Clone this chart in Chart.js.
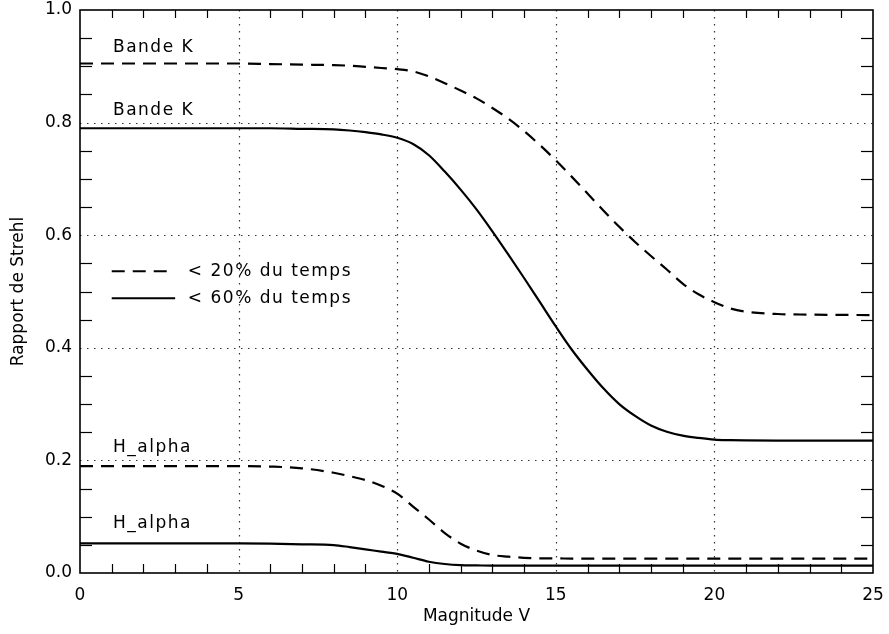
<!DOCTYPE html>
<html>
<head>
<meta charset="utf-8">
<script src="https://cdn.jsdelivr.net/npm/chart.js@4.4.1/dist/chart.umd.min.js"></script>
<style>
  html, body { margin: 0; padding: 0; background: #fff; }
  #c { display: block; }
</style>
</head>
<body>
<canvas id="c" width="889" height="634"></canvas>
<script>
// ---- data ----
const magnitudes = [0,2,4,5,6,7,8,8.5,9,9.5,10,10.5,11,11.5,12,12.5,13,13.5,14,14.5,15,15.5,16,16.5,17,17.5,18,18.5,19,19.5,20,20.5,21,22,23,25];

const bandeK20 = [0.905,0.905,0.905,0.905,0.904,0.903,0.902,0.901,0.899,0.897,0.895,0.891,0.882,0.870,0.857,0.843,0.826,0.807,0.785,0.760,0.733,0.704,0.674,0.644,0.615,0.588,0.563,0.539,0.514,0.495,0.481,0.470,0.464,0.460,0.459,0.458];
const bandeK60 = [0.790,0.790,0.790,0.790,0.790,0.789,0.788,0.786,0.783,0.779,0.773,0.762,0.742,0.713,0.681,0.646,0.607,0.566,0.524,0.481,0.438,0.397,0.361,0.328,0.300,0.279,0.262,0.251,0.244,0.240,0.237,0.236,0.2355,0.235,0.235,0.235];
const halpha20 = [0.190,0.190,0.190,0.190,0.189,0.186,0.178,0.172,0.165,0.155,0.141,0.118,0.095,0.071,0.052,0.040,0.032,0.029,0.027,0.026,0.026,0.0255,0.0255,0.0255,0.0255,0.0255,0.0255,0.0255,0.0255,0.0255,0.0255,0.0255,0.0255,0.0255,0.0255,0.0255];
const halpha60 = [0.0525,0.0525,0.0525,0.0525,0.052,0.051,0.0495,0.046,0.042,0.038,0.034,0.027,0.020,0.016,0.014,0.0135,0.013,0.013,0.013,0.013,0.013,0.013,0.013,0.013,0.013,0.013,0.013,0.013,0.013,0.013,0.013,0.013,0.013,0.013,0.013,0.013];

const xTicks = [0,5,10,15,20,25];
const yTicks = [0.0,0.2,0.4,0.6,0.8,1.0];

const curveLabels = ["Bande K","Bande K","H_alpha","H_alpha"];
const legendLabels = ["< 20% du temps","< 60% du temps"];
const xTitle = "Magnitude V";
const yTitle = "Rapport de Strehl";

// ---- styles / positions (not data) ----
const FONT = '"DejaVu Sans", sans-serif';
const DASH = [13, 8];
const LW = 2.2;
// label anchor positions in data units
const curveLabelPos = [[1.04,0.934],[1.04,0.822],[1.04,0.222],[1.04,0.087]];
const legendPos = [
  {x0:1.0, x1:2.9, y:0.536, dash:DASH},
  {x0:1.0, x1:3.0, y:0.488, dash:[]}
];
const legendTextX = 3.4;

function pts(ys) { return magnitudes.map((x, i) => ({x: x, y: ys[i]})); }

const mk = (ys, dash) => ({
  data: pts(ys),
  borderColor: '#000',
  borderWidth: LW,
  borderDash: dash,
  pointRadius: 0,
  fill: false,
  cubicInterpolationMode: 'monotone'
});

function zeroPad(s) { s.paddingTop = 0; s.paddingBottom = 0; s.paddingLeft = 0; s.paddingRight = 0; }

const decor = {
  id: 'decor',
  beforeInit(chart) { chart.ctx.letterSpacing = '1.5px'; },
  beforeDatasetsDraw(chart) {
    const {ctx, chartArea: a, scales: {x, y}} = chart;
    ctx.save();
    ctx.strokeStyle = '#333';
    ctx.lineWidth = 1.2;
    ctx.setLineDash([1.5, 5.5]);
    xTicks.forEach(v => {
      if (v <= x.min || v >= x.max) return;
      const px = Math.round(x.getPixelForValue(v)) + 0.5;
      ctx.beginPath(); ctx.moveTo(px, a.top); ctx.lineTo(px, a.bottom); ctx.stroke();
    });
    yTicks.forEach(v => {
      if (v <= y.min || v >= y.max) return;
      const py = Math.round(y.getPixelForValue(v)) + 0.5;
      ctx.beginPath(); ctx.moveTo(a.left, py); ctx.lineTo(a.right, py); ctx.stroke();
    });
    ctx.restore();
  },
  afterDatasetsDraw(chart) {
    const {ctx, chartArea: a, scales: {x, y}} = chart;
    ctx.save();
    ctx.setLineDash([]);
    ctx.strokeStyle = '#000';
    ctx.lineWidth = 1.2;
    // minor ticks on x (every 1) and y (every 0.05)
    for (let v = 1; v < 25; v++) {
      if (v % 5 === 0) continue;
      const px = Math.round(x.getPixelForValue(v)) + 0.5;
      ctx.beginPath(); ctx.moveTo(px, a.bottom); ctx.lineTo(px, a.bottom - 9); ctx.stroke();
      ctx.beginPath(); ctx.moveTo(px, a.top); ctx.lineTo(px, a.top + 8); ctx.stroke();
    }
    for (let k = 1; k < 20; k++) {
      if (k % 4 === 0) continue;
      const py = Math.round(y.getPixelForValue(k * 0.05)) + 0.5;
      ctx.beginPath(); ctx.moveTo(a.left, py); ctx.lineTo(a.left + 12, py); ctx.stroke();
      ctx.beginPath(); ctx.moveTo(a.right, py); ctx.lineTo(a.right - 12, py); ctx.stroke();
    }
    // frame
    ctx.lineWidth = 1.6;
    ctx.strokeRect(a.left, a.top, a.right - a.left, a.bottom - a.top);

    // curve labels
    ctx.fillStyle = '#000';
    ctx.font = '17px ' + FONT;
    ctx.letterSpacing = '1.5px';
    ctx.textAlign = 'left';
    ctx.textBaseline = 'middle';
    curveLabels.forEach((t, i) => {
      ctx.fillText(t, x.getPixelForValue(curveLabelPos[i][0]), y.getPixelForValue(curveLabelPos[i][1]));
    });
    // legend
    legendPos.forEach((L, i) => {
      const py = y.getPixelForValue(L.y);
      ctx.lineWidth = LW;
      ctx.setLineDash(L.dash);
      ctx.beginPath();
      ctx.moveTo(x.getPixelForValue(L.x0), py);
      ctx.lineTo(x.getPixelForValue(L.x1), py);
      ctx.stroke();
      ctx.setLineDash([]);
      ctx.fillText(legendLabels[i], x.getPixelForValue(legendTextX), py);
    });
    ctx.restore();
  }
};

new Chart(document.getElementById('c'), {
  type: 'line',
  data: {
    datasets: [mk(bandeK20, DASH), mk(bandeK60, []), mk(halpha20, DASH), mk(halpha60, [])]
  },
  options: {
    responsive: false,
    animation: false,
    devicePixelRatio: 1,
    layout: { padding: { top: 10, right: 16, left: 0, bottom: 0 } },
    plugins: { legend: { display: false }, tooltip: { enabled: false } },
    scales: {
      x: {
        type: 'linear', min: 0, max: 25,
        afterFit(s) { s.height = 61; zeroPad(s); },
        afterBuildTicks(s) { s.ticks = xTicks.map(v => ({value: v})); },
        grid: { display: false, drawTicks: false },
        border: { display: false },
        ticks: { color: '#000', padding: 12, font: { family: FONT, size: 17 }, maxRotation: 0, callback: v => String(v) },
        title: { display: true, text: xTitle, color: '#000', font: { family: FONT, size: 17 }, padding: { top: 0, bottom: 7 } }
      },
      y: {
        type: 'linear', min: 0, max: 1,
        afterFit(s) { s.width = 80; zeroPad(s); },
        afterBuildTicks(s) { s.ticks = yTicks.map(v => ({value: v})); },
        grid: { display: false, drawTicks: false },
        border: { display: false },
        ticks: { color: '#000', padding: 8, font: { family: FONT, size: 17 }, callback: v => Number(v).toFixed(1) },
        title: { display: true, text: yTitle, color: '#000', font: { family: FONT, size: 17 }, padding: { top: 8, bottom: 0 } }
      }
    }
  },
  plugins: [decor]
});
</script>
</body>
</html>
